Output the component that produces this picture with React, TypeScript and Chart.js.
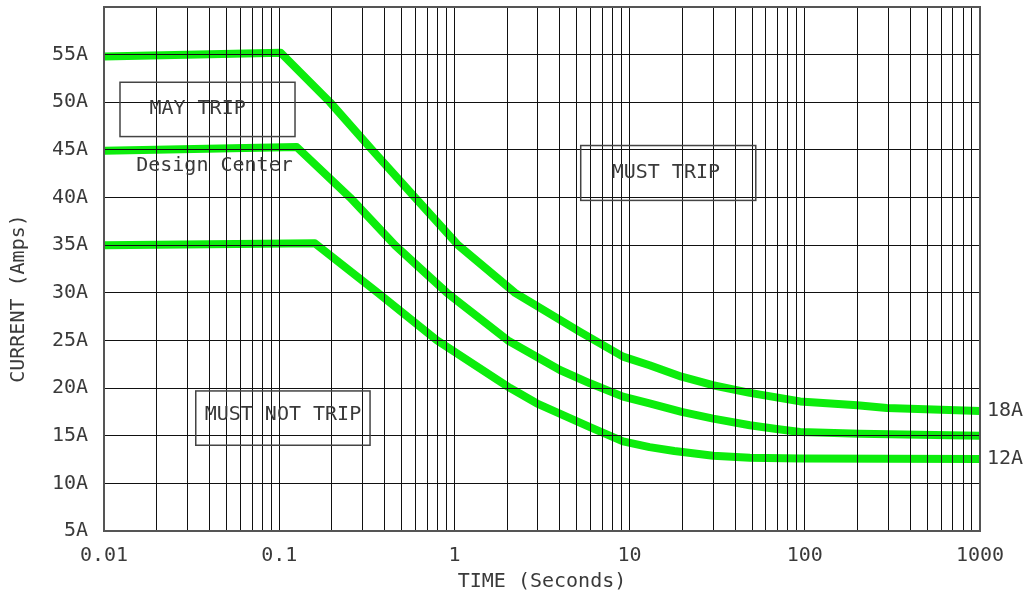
import { useEffect, useRef } from "react";
import { Chart, registerables } from "chart.js";

Chart.register(...registerables);

// ---- data ----
const upperTime = [0.01, 0.102, 0.195, 0.339, 0.596, 1.05, 2.22, 5.21, 9.17, 13, 19.8, 29.9, 48.6, 94, 199, 294, 1000];
const upperAmps = [54.8, 55.2, 50.0, 45.0, 40.0, 35.0, 30.0, 25.9, 23.3, 22.4, 21.2, 20.3, 19.5, 18.6, 18.2, 17.9, 17.6];

const centerTime = [0.01, 0.126, 0.254, 0.458, 0.907, 2.02, 4.0, 5.94, 9.17, 13, 19.8, 30, 48.6, 69, 94, 206, 1000];
const centerAmps = [44.9, 45.3, 40.0, 35.0, 30.0, 25.0, 21.9, 20.5, 19.1, 18.4, 17.5, 16.8, 16.1, 15.7, 15.4, 15.2, 15.0];

const lowerTime = [0.01, 0.16, 0.366, 0.796, 2.08, 2.95, 5.94, 9.17, 13, 18, 30, 48.6, 94, 1000];
const lowerAmps = [35.0, 35.2, 30.0, 25.0, 20.0, 18.4, 15.9, 14.4, 13.8, 13.4, 12.9, 12.7, 12.6, 12.55];

const yTickValues = [5, 10, 15, 20, 25, 30, 35, 40, 45, 50, 55, 60];
const yTickLabels = ["5A", "10A", "15A", "20A", "25A", "30A", "35A", "40A", "45A", "50A", "55A", ""];

const xDecades = [0.01, 0.1, 1, 10, 100];
const xDecadeLabels = ["0.01", "0.1", "1", "10", "100"];
const xLastValue = 1000;
const xLastLabel = "1000";

const yTitle = "CURRENT (Amps)";
const xTitle = "TIME (Seconds)";

const endLabels = ["18A", "12A"];
const endLabelAmps = [17.6, 12.55];

// annotation boxes in data coordinates
const boxNames = ["MAY TRIP", "MUST TRIP", "MUST NOT TRIP"];
const boxTimeMin = [0.01234, 5.26, 0.0334];
const boxTimeMax = [0.1231, 52.5, 0.33];
const boxAmpsMin = [46.4, 39.7, 14.0];
const boxAmpsMax = [52.1, 45.46, 19.7];
const boxTextTime = [0.0342, 16.1, 0.105];
const boxTextAmps = [49.34, 42.56, 17.23];

const noteText = "Design Center";
const noteTime = 0.0427;
const noteAmps = 43.37;

// y-axis title centre (in amps, along the axis)
const yTitleAmps = 29.4;

const FONT = "'DejaVu Sans Mono', monospace";
const TEXT_COLOR = "#3a3a3a";
const GREEN = "#0ced0c";

function toPoints(xs: number[], ys: number[]) {
  return xs.map((x, i) => ({ x, y: ys[i] }));
}

const annotationPlugin = {
  id: "annotations",
  afterDraw(chart: any) {
    const { ctx, chartArea, scales } = chart;
    const xs = scales.x;
    const ys = scales.y;
    ctx.save();
    ctx.strokeStyle = "#555";
    ctx.lineWidth = 2;
    ctx.strokeRect(chartArea.left, chartArea.top, chartArea.right - chartArea.left, chartArea.bottom - chartArea.top);

    ctx.font = `20px ${FONT}`;
    ctx.fillStyle = TEXT_COLOR;
    ctx.textBaseline = "middle";

    for (let i = 0; i < boxNames.length; i++) {
      const x0 = xs.getPixelForValue(boxTimeMin[i]);
      const x1 = xs.getPixelForValue(boxTimeMax[i]);
      const y0 = ys.getPixelForValue(boxAmpsMax[i]);
      const y1 = ys.getPixelForValue(boxAmpsMin[i]);
      ctx.strokeStyle = "#444";
      ctx.lineWidth = 1.5;
      ctx.strokeRect(x0, y0, x1 - x0, y1 - y0);
      ctx.textAlign = "center";
      ctx.fillText(boxNames[i], xs.getPixelForValue(boxTextTime[i]), ys.getPixelForValue(boxTextAmps[i]));
    }

    ctx.textAlign = "center";
    ctx.fillText(noteText, xs.getPixelForValue(noteTime), ys.getPixelForValue(noteAmps));

    ctx.textAlign = "left";
    for (let i = 0; i < endLabels.length; i++) {
      ctx.fillText(endLabels[i], chartArea.right + 7, ys.getPixelForValue(endLabelAmps[i]));
    }

    // y axis title
    ctx.save();
    ctx.translate(19, ys.getPixelForValue(yTitleAmps));
    ctx.rotate(-Math.PI / 2);
    ctx.textAlign = "center";
    ctx.fillText(yTitle, 0, 0);
    ctx.restore();

    ctx.restore();
  },
};

export default function App() {
  const canvasRef = useRef<HTMLCanvasElement | null>(null);

  useEffect(() => {
    document.body.style.margin = "0";
    const canvas = canvasRef.current;
    if (!canvas) return;

    const xTickValues: number[] = [];
    const xTickText: string[] = [];
    xDecades.forEach((d, di) => {
      for (let m = 1; m <= 9; m++) {
        xTickValues.push(d * m);
        xTickText.push(m === 1 ? xDecadeLabels[di] : "");
      }
    });
    xTickValues.push(xLastValue);
    xTickText.push(xLastLabel);

    const dsCommon = {
      borderColor: GREEN,
      backgroundColor: GREEN,
      borderWidth: 8,
      pointRadius: 0,
      fill: false,
      tension: 0,
      borderJoinStyle: "round" as const,
      borderCapStyle: "butt" as const,
    };

    const chart = new Chart(canvas, {
      type: "line",
      data: {
        datasets: [
          { ...dsCommon, label: "Max", data: toPoints(upperTime, upperAmps) },
          { ...dsCommon, label: "Design Center", data: toPoints(centerTime, centerAmps) },
          { ...dsCommon, label: "Min", data: toPoints(lowerTime, lowerAmps) },
        ],
      },
      options: {
        responsive: false,
        animation: false,
        devicePixelRatio: 1,
        layout: { padding: { top: 7, right: 46, left: 0, bottom: 0 } },
        plugins: { legend: { display: false }, tooltip: { enabled: false } },
        scales: {
          x: {
            type: "logarithmic",
            min: 0.01,
            max: 1000,
            afterBuildTicks: (scale: any) => {
              scale.ticks = xTickValues.map((v) => ({ value: v }));
            },
            afterFit: (scale: any) => {
              scale.height = 63;
              scale.paddingLeft = 0;
              scale.paddingRight = 0;
            },
            grid: { color: "#111", lineWidth: 1, drawTicks: false, z: 1 },
            border: { display: false },
            ticks: {
              autoSkip: false,
              maxRotation: 0,
              minRotation: 0,
              padding: 13,
              color: TEXT_COLOR,
              font: { family: FONT, size: 20 },
              callback: (_v: any, i: number) => xTickText[i],
            },
            title: {
              display: true,
              text: xTitle,
              color: TEXT_COLOR,
              font: { family: FONT, size: 20 },
              padding: { top: 0, bottom: 0 },
            },
          },
          y: {
            type: "linear",
            min: 5,
            max: 60,
            afterBuildTicks: (scale: any) => {
              scale.ticks = yTickValues.map((v) => ({ value: v }));
            },
            afterFit: (scale: any) => {
              scale.width = 104;
              scale.paddingTop = 0;
              scale.paddingBottom = 0;
            },
            grid: { color: "#111", lineWidth: 1, drawTicks: false, z: 1 },
            border: { display: false },
            ticks: {
              autoSkip: false,
              padding: 16,
              color: TEXT_COLOR,
              font: { family: FONT, size: 20 },
              callback: (_v: any, i: number) => yTickLabels[i],
            },
            title: { display: false },
          },
        },
      },
      plugins: [annotationPlugin],
    });

    return () => chart.destroy();
  }, []);

  return <canvas ref={canvasRef} width={1026} height={594} style={{ display: "block" }} />;
}
